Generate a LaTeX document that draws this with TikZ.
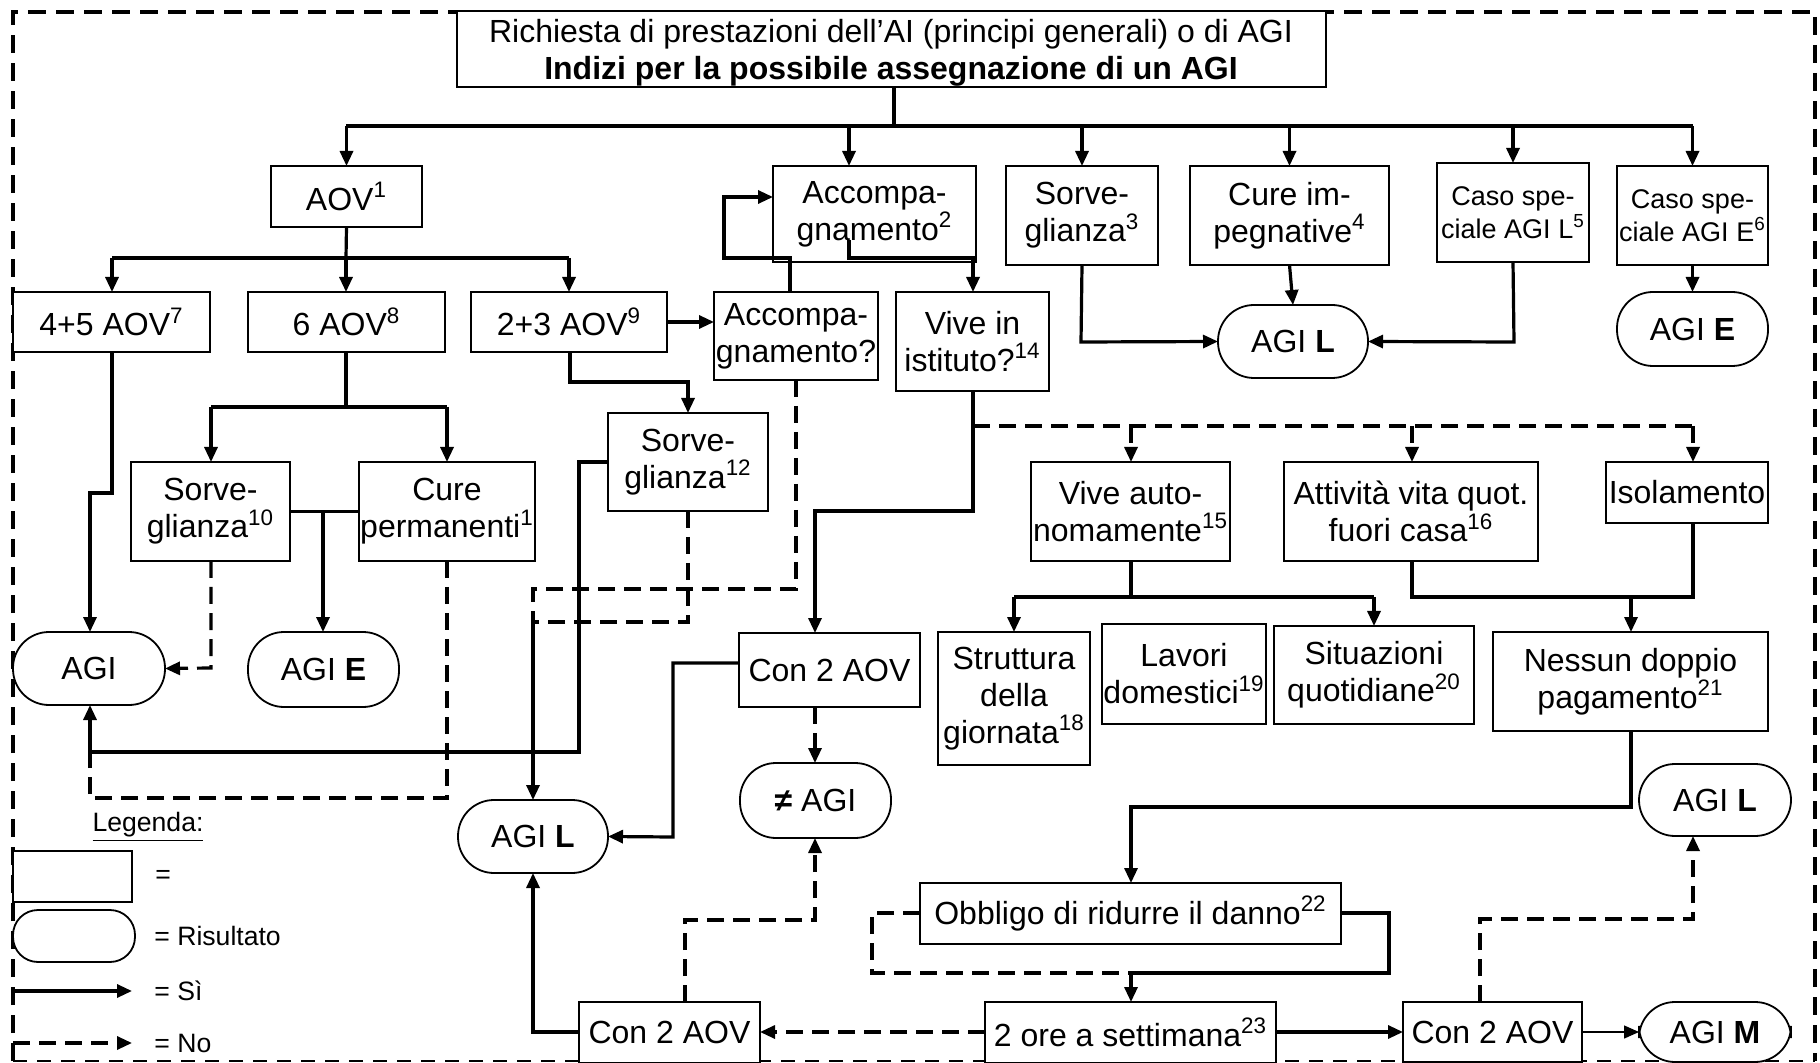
\documentclass[tikz,border=0pt]{standalone}
\usepackage{fontspec}
\setmainfont{Liberation Sans}
\usetikzlibrary{arrows.meta}
\newcommand\fs{\fontsize{16}{18.5}\selectfont}
\newcommand\fss{\fontsize{13.5}{16.5}\selectfont}
\newcommand\fsl{\fontsize{13.3}{16}\selectfont}
\newcommand\sps[1]{\textsuperscript{#1}}
\newcommand\Bx[7]{\node[#1,minimum width={(#4-#2)*0.5pt},minimum height={(#5-#3)*0.5pt}] (#6) at ({(#2+#4)/2},{(#3+#5)/2}) {#7};}
\tikzset{
  box/.style={draw,line width=0.9pt,fill=white,inner sep=0pt,outer sep=0pt,align=center,font=\fs},
  sbox/.style={box,font=\fss},
  res/.style={box,rounded corners=18pt},
  yes/.style={line width=1.6pt,-{Triangle[length=7.5pt,width=6.5pt]}},
  yesl/.style={line width=1.6pt},
  no/.style={line width=1.6pt,dash pattern=on 8.5pt off 4.5pt,-{Triangle[length=7.5pt,width=6.5pt]}},
  nol/.style={line width=1.6pt,dash pattern=on 8.5pt off 4.5pt},
  thin/.style={line width=0.7pt,-{Triangle[length=7.5pt,width=6.5pt]}},
  lbl/.style={inner sep=0pt,anchor=west,font=\fsl}
}
\begin{document}
\begin{tikzpicture}[x=0.5pt,y=-0.5pt]
\useasboundingbox (0,0) rectangle (1820,1063);
% outer border
\draw[line width=2pt,dash pattern=on 9pt off 5pt] (13,1061) -- (13,12) -- (1815,12) -- (1815,1061);
\draw[line width=0.6pt,dash pattern=on 7pt off 5pt] (13,1061) -- (1815,1061);

% nodes
\Bx{box}{457}{11}{1326}{87}{top}{}
\node[font=\fs,align=center,inner sep=0pt] (topt) at (891,53) {Richiesta di prestazioni dell’AI (principi generali) o di AGI\\\textbf{Indizi per la possibile assegnazione di un AGI}};
\Bx{box}{271}{166}{422}{227}{aov}{AOV\sps{1}}
\Bx{box}{773}{166}{976}{262}{acc}{Accompa-\\gnamento\sps{2}}
\Bx{box}{1006}{166}{1158}{265}{sorvA}{Sorve-\\glianza\sps{3}}
\Bx{box}{1190}{166}{1389}{265}{cureA}{Cure im-\\pegnative\sps{4}}
\Bx{sbox}{1437}{163}{1589}{262}{casoL}{Caso spe-\\ciale AGI L\sps{5}}
\Bx{sbox}{1617}{166}{1768}{265}{casoE}{Caso spe-\\ciale AGI E\sps{6}}
\Bx{res}{1218}{305}{1368}{378}{agiLa}{AGI \textbf{L}}
\Bx{res}{1617}{292}{1768}{366}{agiEa}{AGI \textbf{E}}
\Bx{box}{13}{292}{210}{352}{aovB}{4+5 AOV\sps{7}}
\Bx{box}{248}{292}{445}{352}{aovC}{6 AOV\sps{8}}
\Bx{box}{471}{292}{667}{352}{aovD}{2+3 AOV\sps{9}}
\Bx{box}{714}{292}{878}{380}{accq}{Accompa-\\gnamento?}
\Bx{box}{896}{292}{1049}{391}{vive}{Vive in\\istituto?\sps{14}}
\Bx{box}{131}{462}{290}{561}{sorvB}{Sorve-\\glianza\sps{10}}
\Bx{box}{359}{462}{535}{561}{cureB}{Cure\\permanenti\sps{1}}
\Bx{box}{608}{413}{768}{511}{sorvC}{Sorve-\\glianza\sps{12}}
\Bx{res}{13}{632}{165}{705}{agi}{AGI}
\Bx{res}{248}{632}{399}{707}{agiEb}{AGI \textbf{E}}
\Bx{box}{739}{633}{920}{707}{conA}{Con 2 AOV}
\Bx{res}{740}{763}{891}{838}{neq}{\textbf{≠} AGI}
\Bx{res}{458}{800}{608}{873}{agiLb}{AGI \textbf{L}}
\Bx{box}{1031}{462}{1230}{561}{viveA}{Vive auto-\\nomamente\sps{15}}
\Bx{box}{1284}{462}{1538}{561}{attiv}{Attività vita quot.\\fuori casa\sps{16}}
\Bx{box}{1606}{462}{1768}{523}{isol}{Isolamento}
\Bx{box}{938}{632}{1090}{765}{strutt}{Struttura\\della\\giornata\sps{18}}
\Bx{box}{1102}{624}{1266}{724}{lavori}{Lavori\\domestici\sps{19}}
\Bx{box}{1274}{626}{1474}{724}{situaz}{Situazioni\\quotidiane\sps{20}}
\Bx{box}{1493}{632}{1768}{731}{nessun}{Nessun doppio\\pagamento\sps{21}}
\Bx{res}{1639}{764}{1791}{836}{agiLc}{AGI \textbf{L}}
\Bx{box}{920}{883}{1341}{944}{obbl}{Obbligo di ridurre il danno\sps{22}}
\Bx{box}{985}{1002}{1276}{1063}{ore}{2 ore a settimana\sps{23}}
\Bx{box}{579}{1002}{760}{1063}{conB}{Con 2 AOV}
\Bx{box}{1403}{1002}{1582}{1062}{conC}{Con 2 AOV}
\Bx{res}{1639}{1002}{1791}{1062}{agiM}{AGI \textbf{M}}

% legend
\node[lbl,anchor=center] (leg) at (148,827) {\underline{Legenda:}};
\Bx{box}{13}{851}{132}{902}{legbox}{}
\Bx{box,rounded corners=12.5pt}{13}{910}{135}{962}{legres}{}
\node[lbl] (legA) at (155,877) {=};
\node[lbl] (legB) at (154,936) {= Risultato};
\node[lbl] (legC) at (154,991) {= Sì};
\node[lbl] (legD) at (154,1043) {= No};
\coordinate (lsA) at (13,991);
\coordinate (lsB) at (13,1043);
\draw[yes] (lsA) -- (132,991);
\draw[no] (lsB) -- (132,1043);

% top bus
\draw[yesl] (top.south -| 894,0) -- (894,126);
\draw[yesl] (346,126) -- (1693,126);
\draw[yes] (aov.north |- 0,126) -- (aov.north);
\draw[yes] (849,126) -- (acc.north -| 849,0);
\draw[yes] (sorvA.north |- 0,126) -- (sorvA.north);
\draw[yes] (cureA.north |- 0,126) -- (cureA.north);
\draw[yes] (casoL.north |- 0,126) -- (casoL.north);
\draw[yes] (casoE.north |- 0,126) -- (casoE.north);

% right top results
\draw[yes] (sorvA.south) -- (1081,342) -- (agiLa.west);
\draw[yes] (casoL.south) -- (1514,342) -- (agiLa.east);
\draw[yes] (cureA.south) -- (agiLa.north);
\draw[yes] (casoE.south) -- (agiEa.north);

% AOV branches
\draw[yesl] (aov.south) -- (346,258);
\draw[yesl] (112,258) -- (569,258);
\draw[yes] (112,258) -- (aovB.north -| 112,0);
\draw[yes] (346,258) -- (aovC.north -| 346,0);
\draw[yes] (569,258) -- (aovD.north -| 569,0);

\draw[yesl] (aovC.south -| 346,0) -- (346,407);
\draw[yesl] (211,407) -- (447,407);
\draw[yes] (211,407) -- (sorvB.north -| 211,0);
\draw[yes] (447,407) -- (cureB.north -| 447,0);

\draw[yes] (aovB.south -| 112,0) -- (112,493) -- (90,493) -- (agi.north -| 90,0);
\draw[yesl] (sorvB.east) -- (cureB.west);
\draw[yes] (323,511) -- (agiEb.north -| 323,0);
\draw[no] (sorvB.south -| 211,0) -- (211,668) -- (agi.east);
\draw[nol] (cureB.south -| 447,0) -- (447,798) -- (90,798) -- (90,752);
\draw[yes] (sorvC.west |- 0,462) -- (579,462) -- (579,752) -- (90,752) -- (agi.south -| 90,0);

% 2+3 AOV
\draw[yes] (aovD.east |- 0,322) -- (accq.west |- 0,322);
\draw[yes] (aovD.south -| 570,0) -- (570,382) -- (688,382) -- (sorvC.north -| 688,0);
\draw[yes] (accq.north -| 790,0) -- (790,258) -- (724,258) -- (724,197) -- (acc.west |- 0,197);
\draw[yes] (849,240) -- (849,258) -- (973,258) -- (vive.north -| 973,0);
\draw[nol] (accq.south -| 796,0) -- (796,589) -- (533,589) -- (533,622);
\draw[nol] (sorvC.south -| 688,0) -- (688,622) -- (533,622);
\draw[yes] (533,622) -- (agiLb.north);

% vive
\draw[yes] (vive.south -| 973,0) -- (973,511) -- (815,511) -- (conA.north -| 815,0);
\draw[yes] (conA.west |- 0,663) -- (673,663) -- (673,837) -- (agiLb.east);
\draw[no] (conA.south -| 815,0) -- (neq.north -| 815,0);
\draw[nol] (973,426) -- (1693,426);
\draw[no] (1131,426) -- (viveA.north -| 1131,0);
\draw[no] (1412,426) -- (attiv.north -| 1412,0);
\draw[no] (1693,426) -- (isol.north -| 1693,0);

\draw[yesl] (viveA.south -| 1131,0) -- (1131,597);
\draw[yesl] (1014,597) -- (1374,597);
\draw[yes] (1014,597) -- (strutt.north -| 1014,0);
\draw[yes] (1374,597) -- (situaz.north -| 1374,0);
\draw[yesl] (attiv.south -| 1412,0) -- (1412,597) -- (1693,597) -- (isol.south -| 1693,0);
\draw[yes] (1631,597) -- (nessun.north -| 1631,0);

% lower part
\draw[yes] (nessun.south -| 1631,0) -- (1631,807) -- (1131,807) -- (obbl.north -| 1131,0);
\draw[yes] (obbl.east |- 0,913) -- (1389,913) -- (1389,973) -- (1131,973) -- (ore.north -| 1131,0);
\draw[nol] (obbl.west |- 0,913) -- (872,913) -- (872,973) -- (1131,973);
\draw[yes] (ore.east |- 0,1032) -- (conC.west |- 0,1032);
\draw[no] (ore.west |- 0,1032) -- (conB.east |- 0,1032);
\draw[yes] (conB.west |- 0,1032) -- (533,1032) -- (agiLb.south);
\draw[no] (conB.north -| 685,0) -- (685,920) -- (815,920) -- (neq.south -| 815,0);
\draw[no] (conC.north -| 1480,0) -- (1480,919) -- (1693,919) -- (agiLc.south -| 1693,0);
\draw[thin] (conC.east |- 0,1032) -- (agiM.west |- 0,1032);
\end{tikzpicture}
\end{document}
